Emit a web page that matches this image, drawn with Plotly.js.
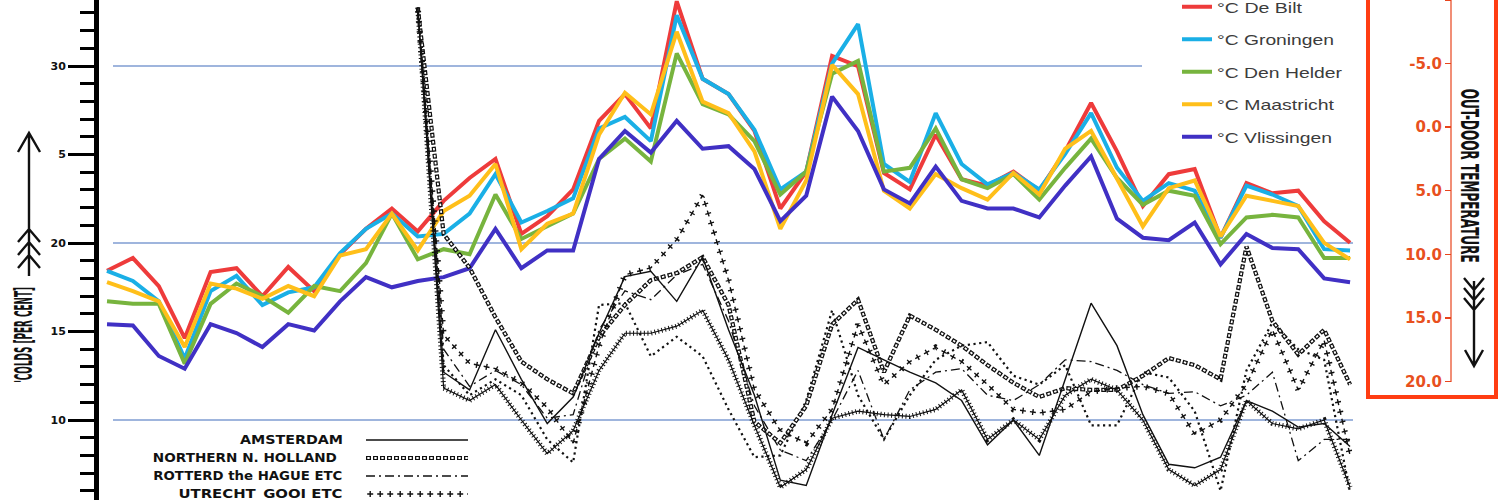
<!DOCTYPE html>
<html><head><meta charset="utf-8">
<script src="https://cdn.plot.ly/plotly-3.0.1.min.js"></script>
<style>html,body{margin:0;padding:0;background:#fff;overflow:hidden}#chart{width:1500px;height:500px}</style>
</head><body><div id="chart"></div>
<script>
// ---- categories (week number of the season) ----
const weeks = [1,2,3,4,5,6,7,8,9,10,11,12,13,14,15,16,17,18,19,20,21,22,23,24,25,26,27,28,29,30,31,32,33,34,35,36,37,38,39,40,41,42,43,44,45,46,47,48,49];
const coldWeeks = [13,14,15,16,17,18,19,20,21,22,23,24,25,26,27,28,29,30,31,32,33,34,35,36,37,38,39,40,41,42,43,44,45,46,47,48,49];

// ---- out-door temperature, °C (right axis, reversed) ----
const deBilt     = [11.3,10.3,12.5,16.6,11.4,11.1,13.3,11.0,12.9,10.0,8.0,6.4,8.2,5.8,4.0,2.5,8.4,7.0,4.9,-0.5,-2.6,0.1,-9.9,-3.8,-2.6,0.3,6.4,3.5,-5.6,-4.8,3.6,4.9,0.6,4.1,4.6,3.5,5.0,1.9,-1.9,1.9,6.2,3.7,3.3,8.7,4.4,5.2,5.0,7.4,9.1];
const groningen  = [11.3,12.1,13.7,18.2,12.9,11.7,14.0,13.0,12.6,9.9,8.0,6.8,8.6,8.4,6.8,3.7,7.5,6.6,5.6,0.1,-0.8,1.1,-8.8,-3.8,-2.6,0.2,4.9,3.5,-5.0,-8.1,2.9,4.3,-1.1,2.9,4.5,3.6,4.9,2.1,-1.1,3.2,5.8,4.4,5.0,8.7,4.6,5.3,6.2,9.6,9.7];
const denHelder  = [13.7,13.9,13.9,18.6,13.9,12.3,13.3,14.6,12.5,12.9,10.7,6.8,10.4,9.6,10.0,5.3,8.8,7.8,6.8,2.5,0.9,2.7,-5.8,-1.8,-1.0,1.1,5.3,3.5,-4.2,-5.2,3.5,3.2,0.1,4.1,4.8,3.7,5.7,3.2,0.9,4.0,6.1,5.0,5.4,9.2,7.1,6.9,7.1,10.3,10.3];
const maastricht = [12.2,12.9,13.7,17.3,12.3,12.7,13.5,12.5,13.3,10.1,9.6,6.8,9.7,6.6,5.4,2.9,9.6,7.6,6.8,0.6,-2.7,-1.0,-7.5,-2.0,-1.1,1.9,8.0,4.2,-4.9,-2.6,5.0,6.4,3.7,4.8,5.7,3.6,5.3,1.7,0.3,4.1,7.8,4.8,4.2,8.6,5.4,5.8,6.2,9.1,10.4];
const vlissingen = [15.5,15.6,18.0,19.0,15.5,16.2,17.3,15.5,16.0,13.7,11.8,12.6,12.1,11.8,11.1,8.0,11.1,9.7,9.7,2.5,0.3,2.0,-0.5,1.7,1.5,3.3,7.4,5.4,-2.4,0.3,4.9,6.0,3.1,5.8,6.4,6.4,7.1,4.6,2.3,7.2,8.7,8.9,7.5,10.8,8.4,9.5,9.6,11.9,12.2];

// ---- colds, per cent (left axis) ----
const amsterdam      = [33.3,12.7,11.7,15.1,12.3,9.8,11.3,14.9,18.1,18.4,16.7,19.2,15.1,11.4,6.6,6.3,10.3,14.1,13.4,12.7,12.1,11.1,8.6,10.0,8.0,12.3,16.6,14.2,10.3,7.5,7.3,7.9,11.1,10.5,9.6,9.8,8.5];
const northernNH     = [33.3,20.5,18.6,15.8,13.3,12.3,11.5,14.7,16.5,17.9,18.3,19.2,16.5,9.9,8.7,10.8,15.4,16.8,12.7,15.9,15.1,14.2,13.1,12.1,11.3,11.8,11.7,11.7,12.5,13.5,13.1,12.3,19.8,15.6,13.7,15.1,12.0];
const rotterdamHague = [33.3,14.0,11.9,12.8,12.0,10.1,10.3,15.1,17.3,16.8,18.2,18.8,15.6,10.8,8.3,7.7,10.0,12.8,8.9,11.7,12.7,12.9,11.4,11.1,12.0,13.4,13.3,12.8,12.0,11.5,11.6,10.8,11.4,12.7,7.7,8.9,8.9];
const utrechtGooi    = [33.3,14.8,13.2,12.9,12.1,10.7,8.7,14.2,18.2,18.6,20.2,22.7,17.9,11.7,9.4,8.7,10.6,15.4,12.0,13.3,14.1,13.3,12.0,10.6,10.4,10.6,11.6,11.8,11.9,11.5,9.2,10.0,12.0,15.1,11.7,14.5,8.0];
const otherDotted    = [33.3,13.1,11.4,12.3,11.4,8.9,7.6,16.5,16.6,13.6,14.7,13.6,10.6,7.9,8.0,11.1,16.2,11.4,8.9,11.4,13.4,14.2,14.4,12.5,12.0,13.1,9.7,9.7,12.7,12.4,10.5,6.0,12.8,15.5,14.0,13.4,5.9];
const otherTicked    = [33.3,11.8,11.1,12.0,10.0,8.1,9.4,12.8,14.9,14.9,15.3,16.2,13.4,9.7,6.2,7.2,10.1,10.5,10.3,10.2,10.6,11.7,8.9,10.0,8.9,11.4,12.3,11.7,10.0,7.2,6.3,7.2,11.1,9.8,9.5,10.0,6.2];

// ---- tick labels & legend labels ----
const coldTickVals = [10,15,20,25,30];
const coldTickText = ['10','15','20','5','30'];
const tempTickVals = [-10,-5,0,5,10,15,20];
const tempTickText = ['-10.0','-5.0','0.0','5.0','10.0','15.0','20.0'];
const tempNames = ['°C De Bilt','°C Groningen','°C Den Helder','°C Maastricht','°C Vlissingen'];
const coldNames = ['AMSTERDAM','NORTHERN N. HOLLAND','ROTTERD the HAGUE ETC','UTRECHT_GOOI ETC'];

// ---- styling ----
const W = 1500, H = 500;
const px = x => x / W, py = y => 1 - y / H;
const tempColors = ['#EE3B3B','#1AAFE6','#77B43E','#FFBF1A','#4030C4'];
const INK = '#111111';
const RED = '#FF3D12';
const CIRC_OUT = {color: INK, width: 4.2, dash: '5px,2px'};
const CIRC_IN  = {color: '#ffffff', width: 1.8, dash: '0px,1.3px,2.4px,3.3px'};
const PLUS_V = {color: INK, width: 6, dash: '0px,3.5px,1.4px,5.1px'};
const PLUS_H = {color: INK, width: 1.4, dash: '0px,1.2px,6px,2.8px'};
const DASHDOT = {color: INK, width: 1.3, dash: '9px,4px,2px,4px'};
const SOLID = {color: INK, width: 1.4};

const temps = [deBilt, groningen, denHelder, maastricht, vlissingen];
const traces = [];
temps.forEach((s, k) => traces.push({
  x: weeks, y: s, xaxis: 'x', yaxis: 'y', mode: 'lines', name: tempNames[k],
  legendgroup: 'g' + k, line: {color: tempColors[k], width: 4}, hoverinfo: 'skip'
}));

function cold(y, line) {
  return {x: coldWeeks, y: y, xaxis: 'x', yaxis: 'y2', mode: 'lines',
    line: line, showlegend: false, hoverinfo: 'skip'};
}
traces.push(cold(otherDotted, {color: INK, width: 2.2, dash: '2.2px,3.5px'}));
traces.push(cold(otherTicked, {color: INK, width: 1.2}));
traces.push(cold(otherTicked, {color: INK, width: 5, dash: '1px,2.6px'}));
traces.push(cold(rotterdamHague, DASHDOT));
traces.push(cold(northernNH, CIRC_OUT));
traces.push(cold(northernNH, CIRC_IN));
traces.push(cold(utrechtGooi, PLUS_V));
traces.push(cold(utrechtGooi, PLUS_H));
traces.push(cold(amsterdam, SOLID));

// legend samples for the colds series (drawn on a pixel overlay)
const sampleRows = [440, 458, 476, 494];
const sampleStyles = [[SOLID], [CIRC_OUT, CIRC_IN], [DASHDOT], [PLUS_V, PLUS_H]];
sampleRows.forEach((yy, k) => sampleStyles[k].forEach(st => traces.push({
  x: [366, 468], y: [yy, yy], xaxis: 'x2', yaxis: 'y3', mode: 'lines',
  line: st, showlegend: false, hoverinfo: 'skip'
})));

function pathOf(segs) {
  return segs.map(seg => seg.map((p, i) => (i ? 'L' : 'M') + px(p[0]).toFixed(5) + ',' + py(p[1]).toFixed(5)).join(' ')).join(' ');
}
const leftArrow = [
  [[29,276],[29,133]], [[18,152],[29,133],[40,152]],
  [[18,242],[29,229],[40,242]], [[18,255],[29,242],[40,255]], [[18,268],[29,255],[40,268]]
];
const rightArrow = [
  [[1474,281],[1474,366]], [[1465,350],[1474,366],[1483,350]],
  [[1464,278],[1474,290],[1484,278]], [[1464,288],[1474,300],[1484,288]], [[1464,298],[1474,310],[1484,298]]
];

const gridColor = '#7F9DD2';
const shapes = [
  {type:'line', xref:'paper', yref:'y2', x0:px(113), x1:px(1142), y0:30, y1:30, line:{color:gridColor, width:1.4}, layer:'below'},
  {type:'line', xref:'paper', yref:'y2', x0:px(113), x1:px(1353), y0:20, y1:20, line:{color:gridColor, width:1.4}, layer:'below'},
  {type:'line', xref:'paper', yref:'y2', x0:px(113), x1:px(1353), y0:10, y1:10, line:{color:gridColor, width:1.4}, layer:'below'},
  {type:'rect', xref:'paper', yref:'paper', x0:px(1368), x1:px(1496), y0:py(397), y1:py(-10), line:{color:RED, width:4}},
  {type:'line', xref:'paper', yref:'paper', x0:px(1451), x1:px(1451), y0:py(0), y1:py(382), line:{color:'#E8441C', width:1.2}},
  {type:'path', xref:'paper', yref:'paper', path:pathOf(leftArrow), line:{color:INK, width:2.4}},
  {type:'path', xref:'paper', yref:'paper', path:pathOf(rightArrow), line:{color:INK, width:2.4}}
];

// annotations: [text, centre x px, centre y px, angle, size, target length px]
const annSpecs = [
  ["'COLDS [PER CENT]", 23, 335, -90, 25, 96],
  ['OUT-DOOR TEMPERATURE', 1470, 175, 90, 25, 174],
  [coldNames[0], 343 - 103/2, sampleRows[0], 0, 11.5, 103],
  [coldNames[1], 337 - 184/2, sampleRows[1], 0, 11.5, 184],
  [coldNames[2], 342 - 189/2, sampleRows[2], 0, 11.5, 189],
  [coldNames[3], 342 - 164/2, sampleRows[3], 0, 11.5, 164]
];
const annotations = annSpecs.map(a => ({
  xref:'paper', yref:'paper', x:px(a[1]), y:py(a[2]), text:a[0], textangle:a[3], showarrow:false,
  xanchor:'center', yanchor:'middle', font:{family:'DejaVu Sans, sans-serif', size:a[4], color:INK, weight:'bold'}
}));
const legendLengths = [85, 117, 125, 117, 115];

const layout = {
  width: W, height: H, margin: {l:0, r:0, t:0, b:0, pad:0, autoexpand:false},
  paper_bgcolor:'#ffffff', plot_bgcolor:'rgba(0,0,0,0)',
  showlegend: true,
  legend: {x: px(1177), y: py(-9.5), xanchor:'left', yanchor:'top', bgcolor:'rgba(0,0,0,0)',
    font:{family:'Liberation Sans, Arial, sans-serif', size:15, color:'#3c3c3c'}, tracegroupgap: 10, traceorder:'grouped'},
  xaxis: {domain:[0,1], range:[-3.132, 54.79], visible:false, fixedrange:true},
  yaxis: {domain:[0,1], range:[29.33, -10.0], anchor:'free', position:px(1451), side:'left',
    showline:false, showgrid:false, zeroline:false, ticks:'outside', ticklen:6, tickwidth:1.5, tickcolor:'#E8441C',
    tickmode:'array', tickvals: tempTickVals, ticktext: tempTickText,
    tickfont:{family:'DejaVu Sans, sans-serif', size:15, color:'#E8501E', weight:'bold'}, automargin:false, fixedrange:true},
  yaxis2: {overlaying:'y', anchor:'free', position:px(96), side:'left', range:[5.48, 33.73],
    showline:true, linewidth:5, linecolor:'#000', showgrid:false, zeroline:false,
    ticks:'outside', ticklen:26, tickwidth:3, tickcolor:'#000',
    tickmode:'array', tickvals: coldTickVals, ticktext: coldTickText,
    tickfont:{family:'DejaVu Sans, sans-serif', size:11, color:INK, weight:'bold'},
    minor:{tickmode:'linear', tick0:0, dtick:1, ticks:'outside', ticklen:14, tickwidth:3, tickcolor:'#000', showgrid:false},
    automargin:false, fixedrange:true},
  xaxis2: {overlaying:'x', range:[0, W], visible:false, fixedrange:true},
  yaxis3: {overlaying:'y', range:[H, 0], visible:false, fixedrange:true},
  shapes: shapes,
  annotations: annotations
};

Plotly.newPlot('chart', traces, layout, {displayModeBar:false, staticPlot:true}).then(gd => {
  // fit text runs to the widths of the lettering in the original drawing
  gd.querySelectorAll('.legend [clip-path]').forEach(el => el.removeAttribute('clip-path'));
  gd.querySelectorAll('.legend .legendtext').forEach((t, k) => {
    if (legendLengths[k]) { t.setAttribute('textLength', legendLengths[k]); t.setAttribute('lengthAdjust', 'spacingAndGlyphs'); }
  });
  annSpecs.forEach((a, k) => {
    const t = gd.querySelector('.annotation[data-index="' + k + '"] text.annotation-text');
    if (t) { t.setAttribute('textLength', a[5]); t.setAttribute('lengthAdjust', 'spacingAndGlyphs'); }
  });
});
</script></body></html>
